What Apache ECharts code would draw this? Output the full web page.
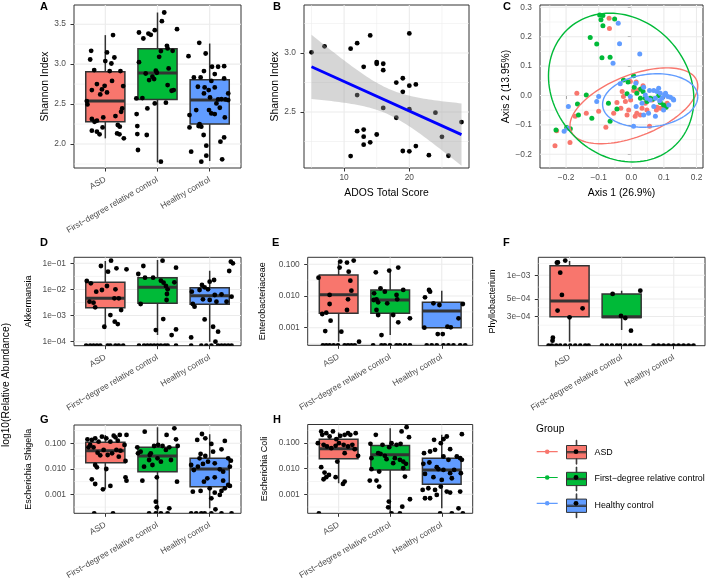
<!DOCTYPE html>
<html>
<head>
<meta charset="utf-8">
<script src="https://cdn.jsdelivr.net/npm/echarts@6/dist/echarts.min.js"></script>
<style>
  html, body { margin: 0; padding: 0; background: #fff; }
  #main { width: 708px; height: 584px; }
</style>
</head>
<body>
<div id="main"></div>
<script>
const FONT = '"Liberation Sans", Arial, Helvetica, sans-serif';

const groupNames = ['ASD', 'First−degree relative control', 'Healthy control'];
const groupColors = ['#F8766D', '#00BA38', '#619CFF'];
const boxTicks = [1, 2, 3];

// A - Shannon index per group. box stats: [lower whisker, Q1, median, Q3, upper whisker]
const shannonTicks = [2.0, 2.5, 3.0, 3.5];
const shannonMinor = [1.75, 2.25, 2.75, 3.25];
const shannonBox = [
  [2.071, 2.279, 2.537, 2.904, 3.363],
  [1.771, 2.558, 2.888, 3.192, 3.646],
  [1.787, 2.250, 2.550, 2.804, 3.258]
];
const shannonASD = [[1.148,3.363],[0.729,3.167],[1.032,3.146],[1.174,3.083],[0.71,3.058],[1.0,3.038],[1.116,3.008],[0.787,2.925],[1.084,2.913],[1.29,2.913],[1.129,2.79],[0.839,2.75],[0.987,2.729],[1.342,2.725],[0.742,2.675],[0.935,2.683],[1.032,2.646],[0.903,2.621],[0.645,2.538],[0.658,2.496],[1.323,2.446],[1.303,2.404],[0.742,2.313],[0.839,2.292],[0.961,2.333],[1.194,2.35],[1.239,2.238],[1.277,2.217],[0.948,2.208],[0.742,2.167],[0.839,2.154],[0.89,2.121],[1.226,2.133],[1.271,2.121],[1.355,2.071],[0.794,2.279]];
const shannonFDR = [[2.129,3.646],[2.084,3.538],[2.374,3.438],[1.948,3.425],[1.645,3.396],[1.826,3.383],[1.871,3.367],[1.729,3.321],[2.181,3.229],[2.194,3.196],[2.065,3.163],[2.29,3.167],[2.032,3.092],[1.645,3.025],[2.213,2.946],[1.968,2.917],[1.987,2.892],[1.774,2.883],[1.903,2.842],[1.935,2.813],[1.839,2.8],[2.194,2.738],[2.31,2.675],[2.271,2.667],[1.594,2.571],[1.71,2.575],[2.161,2.517],[1.948,2.508],[1.806,2.446],[1.6,2.375],[1.613,2.225],[1.613,2.125],[1.794,2.113],[1.626,1.925],[2.065,1.779]];
const shannonHC = [[2.8,3.267],[2.923,3.133],[2.594,3.1],[2.89,2.913],[3.045,2.967],[3.161,2.967],[3.277,2.975],[3.097,2.875],[2.697,2.833],[2.826,2.833],[3.277,2.821],[3.032,2.79],[2.774,2.717],[2.903,2.708],[2.981,2.675],[3.097,2.708],[2.89,2.633],[3.355,2.633],[3.006,2.583],[3.161,2.558],[3.226,2.563],[3.303,2.558],[3.355,2.55],[3.129,2.508],[2.742,2.425],[2.987,2.425],[3.032,2.383],[3.097,2.375],[3.194,2.454],[2.613,2.363],[3.29,2.333],[2.806,2.25],[2.839,2.217],[2.613,2.208],[2.787,2.225],[2.884,2.113],[3.277,2.083],[3.206,2.029],[2.935,1.979],[2.645,1.904],[2.935,1.854],[2.839,1.779],[3.239,1.808]];

// B - ADOS vs Shannon
const adosScore = [5,7,11,12,14,20,13,15,15,16,16,18,19,19,20,21,12,16,20,18,24,28,12,13,13,14,13,15,25,19,20,21,23,26,11];
const adosShannon = [3.006,3.057,3.037,3.083,3.149,3.166,2.883,2.923,2.909,2.909,2.854,2.749,2.786,2.671,2.723,2.734,2.643,2.534,2.523,2.451,2.494,2.414,2.337,2.351,2.291,2.243,2.223,2.309,2.289,2.169,2.166,2.211,2.134,2.129,2.126];
const adosTicks = [10, 20];
const adosMinor = [5, 15, 25];
const bShannonTicks = [2.5, 3.0];
const bShannonMinor = [2.25, 2.75, 3.25];
const tCrit = 2.035; // t(0.975, df = 33)

// C - PCoA
const pcoaTicksX = [-0.2, -0.1, 0, 0.1, 0.2];
const pcoaMinorX = [-0.25, -0.15, -0.05, 0.05, 0.15];
const pcoaTicksY = [-0.2, -0.1, 0, 0.1, 0.2, 0.3];
const pcoaMinorY = [-0.15, -0.05, 0.05, 0.15, 0.25];
const pcoaASD = [[-0.068,0.263],[-0.067,0.228],[-0.003,0.048],[0.015,0.046],[-0.028,0.014],[0.022,0.019],[-0.024,-0.003],[-0.002,-0.015],[-0.018,-0.02],[-0.032,-0.043],[-0.054,-0.06],[-0.1,-0.054],[-0.138,-0.06],[-0.167,0.008],[-0.172,-0.071],[-0.078,-0.108],[-0.013,-0.066],[0.012,-0.071],[0.028,-0.066],[0.033,-0.043],[0.056,-0.105],[0.079,-0.04],[0.089,-0.043],[0.101,-0.04],[0.11,-0.026],[0.043,-0.026],[0.048,-0.049],[0.064,-0.015],[0.077,-0.049],[-0.229,-0.12],[-0.234,-0.171],[-0.188,-0.16],[-0.044,-0.024],[0.036,0.033],[0.007,0.017],[-0.008,-0.049],[0.017,-0.06]];
const pcoaFDR = [[-0.097,0.274],[-0.087,0.272],[-0.093,0.258],[-0.051,0.26],[-0.087,0.237],[-0.126,0.197],[-0.106,0.175],[-0.09,0.128],[-0.065,0.13],[0.007,0.067],[-0.024,0.053],[-0.01,0.046],[0.029,0.022],[0.036,0.014],[0.043,-0.009],[0.05,-0.015],[0.058,-0.009],[0.099,-0.032],[0.107,-0.04],[0.067,-0.012],[-0.138,0.002],[-0.07,-0.026],[-0.165,-0.029],[-0.162,-0.066],[-0.121,-0.077],[-0.065,-0.088],[-0.044,-0.046],[-0.198,-0.109],[-0.187,-0.113],[-0.231,-0.117],[0.028,-0.009],[0.084,-0.001],[0.017,0.008],[0.009,0.028],[-0.013,0.006],[0.048,-0.02],[0.089,-0.024]];
const pcoaHC = [[-0.04,0.246],[-0.036,0.176],[0.026,0.141],[-0.056,0.11],[-0.034,0.04],[0.014,0.042],[0.038,0.028],[0.056,0.017],[0.069,0.017],[0.079,0.014],[0.089,0.008],[0.102,0.002],[0.112,-0.003],[0.12,-0.006],[0.128,-0.012],[0.074,-0.009],[0.058,-0.015],[0.087,-0.018],[0.115,-0.032],[0.099,-0.049],[0.069,-0.037],[0.053,-0.06],[0.074,-0.071],[0.038,-0.066],[0.015,-0.037],[-0.003,-0.003],[0.033,-0.026],[-0.1,-0.003],[-0.106,-0.02],[-0.193,-0.037],[-0.206,-0.122],[-0.195,-0.111],[0.007,-0.105],[0.043,0.002],[0.084,0.025],[0.105,0.008],[0.094,-0.009],[0.13,-0.015],[0.048,-0.009]];
// ellipse: [centre x, centre y, half width, half height, phase of the top point (deg)]
const pcoaEllipse = [
  [0.008, -0.035, 0.196, 0.129, 58.7],
  [-0.031, 0.027, 0.223, 0.253, 99],
  [0.058, -0.017, 0.146, 0.091, 81.7]
];

// D-H: log10 relative abundance, null = zero abundance (drawn on the floor)
const akkTicks = [-1, -2, -3, -4];
const akkLabels = ['1e−01', '1e−02', '1e−03', '1e−04'];
const akkMinor = [-1.5, -2.5, -3.5];
const akkBox = [
  [-3.516, -2.699, -2.341, -1.728, -0.91],
  [-3.746, -2.533, -1.92, -1.549, -0.872],
  [-4.0, -2.571, -2.239, -1.932, -1.281]
];
const akkASD = [[1.11,-0.898],[0.916,-1.102],[1.052,-1.319],[1.213,-1.192],[1.406,-1.23],[0.645,-1.677],[0.723,-1.766],[1.032,-1.868],[0.826,-2.086],[0.935,-2.022],[1.194,-1.996],[1.174,-2.341],[1.258,-2.341],[0.697,-2.469],[0.774,-2.507],[0.806,-2.686],[1.303,-2.788],[1.097,-2.98],[1.181,-3.235],[1.239,-3.324],[0.981,-3.427],[0.632,null],[0.71,null],[0.774,null],[0.839,null],[0.903,null],[1.045,null],[1.097,null],[1.194,null],[1.258,null],[1.342,null]];
const akkFDR = [[2.097,-0.898],[1.729,-1.102],[1.632,-1.409],[2.355,-1.166],[1.761,-1.549],[1.916,-1.549],[2.065,-1.664],[2.116,-1.741],[2.161,-1.868],[2.323,-1.728],[2.194,-1.996],[2.181,-2.175],[2.174,-2.405],[1.677,-2.558],[2.11,-3.133],[1.968,-3.554],[2.355,-3.529],[2.271,-3.746],[1.645,null],[1.742,null],[1.806,null],[1.871,null],[1.935,null],[2.0,null],[2.065,null],[2.142,null],[2.194,null],[2.355,null]];
const akkHC = [[3.406,-0.936],[3.445,-1.0],[3.374,-1.294],[3.0,-1.702],[3.084,-1.639],[2.852,-1.83],[2.903,-1.92],[2.806,-2.022],[2.968,-1.996],[2.658,-2.086],[3.097,-2.213],[3.226,-2.188],[3.419,-2.277],[3.0,-2.405],[2.677,-2.558],[2.71,-2.66],[2.871,-2.379],[3.129,-2.469],[3.323,-2.469],[2.903,-3.146],[3.065,-3.427],[3.161,-3.618],[2.645,-3.835],[3.11,-4.0],[2.645,null],[2.839,null],[2.935,null],[3.032,null],[3.161,null],[3.226,null],[3.29,null],[3.355,null],[3.419,null]];

const entTicks = [-1, -2, -3];
const entLabels = ['0.100', '0.010', '0.001'];
const entMinor = [-1.5, -2.5, -3.5];
const entBox = [
  [-3.442, -2.547, -1.958, -1.337, -0.895],
  [-3.232, -2.547, -2.126, -1.81, -1.179],
  [-3.0, -3.0, -2.474, -2.2, -1.832]
];
const entASD = [[1.032,-0.916],[1.162,-0.947],[1.292,-0.884],[1.019,-1.105],[1.195,-1.232],[0.61,-1.421],[1.227,-1.516],[1.247,-1.832],[0.825,-1.968],[0.682,-2.568],[0.76,-2.526],[0.825,-2.253],[0.844,-2.779],[0.74,-3.105],[1.052,-3.126],[1.396,-3.442],[1.162,-2.442],[1.182,-2.105],[0.695,null],[0.76,null],[0.825,null],[0.903,null],[0.987,null],[1.117,null],[1.182,null],[1.247,null],[1.312,null]];
const entFDR = [[1.721,-1.253],[1.981,-1.2],[2.156,-1.105],[1.812,-1.758],[1.896,-1.863],[1.734,-2.105],[1.766,-2.2],[1.682,-2.126],[1.942,-2.232],[2.123,-1.968],[2.136,-2.105],[1.734,-2.442],[1.766,-2.6],[2.058,-2.6],[2.156,-2.832],[2.383,-2.705],[1.831,-3.232],[1.688,-1.916],[2.253,-1.81],[1.669,null],[1.831,null],[1.896,null],[1.994,null],[2.123,null],[2.188,null],[2.286,null],[2.383,null]];
const entHC = [[2.753,-1.81],[2.773,-1.863],[2.675,-2.042],[2.838,-2.232],[2.955,-2.284],[3.409,-2.253],[3.325,-2.705],[2.662,-3.0],[2.922,-3.2],[3.019,-3.2],[3.11,-2.968],[3.175,-2.989],[2.708,null],[2.805,null],[2.903,null],[3.032,null],[3.13,null],[3.227,null],[3.357,null],[3.455,null]];

const phyTicks = [Math.log10(1e-3), Math.log10(5e-4), Math.log10(3e-4)];
const phyLabels = ['1e−03', '5e−04', '3e−04'];
const phyMinor = [-2.85, -3.15, -3.412, -3.634];
const phyBox = [
  [-3.844, -3.526, -3.326, -2.877, -2.818],
  [-3.695, -3.538, -3.526, -3.237, -3.195],
  [null, null, null, null, null]
];
const phyASD = [[0.757,-2.839],[0.776,-2.836],[0.917,-2.813],[0.821,-2.966],[0.853,-3.25],[0.77,-3.449],[1.25,-3.42],[1.0,-3.534],[0.68,-3.793],[0.673,-3.831],[0.597,null],[0.661,null],[0.744,null],[0.821,null],[0.917,null],[1.013,null],[1.109,null],[1.205,null],[1.301,null],[1.365,null]];
const phyFDR = [[1.827,-3.237],[2.358,-3.195],[1.987,-3.517],[2.07,-3.543],[2.179,-3.704],[1.621,null],[1.717,null],[1.813,null],[1.909,null],[1.972,null],[2.068,null],[2.164,null],[2.26,null],[2.356,null]];
const phyHC = [[2.612,null],[2.708,null],[2.804,null],[2.9,null],[2.996,null],[3.092,null],[3.188,null],[3.284,null],[3.38,null]];

const shiTicks = [-1, -2, -3];
const shiLabels = ['0.100', '0.010', '0.001'];
const shiMinor = [-0.5, -1.5, -2.5, -3.5];
const shiBox = [
  [-2.79, -1.758, -1.288, -0.961, -0.673],
  [null, -2.111, -1.497, -1.157, -0.373],
  [-3.549, -2.699, -2.007, -1.588, -0.647]
];
const shiASD = [[0.658,-0.843],[0.677,-1.157],[0.742,-0.869],[0.806,-0.804],[0.871,-0.935],[0.935,-0.739],[1.019,-0.804],[1.097,-0.935],[1.161,-0.699],[1.194,-0.765],[1.239,-0.895],[1.277,-0.673],[1.406,-0.673],[0.71,-1.065],[0.774,-1.157],[0.852,-1.366],[0.903,-1.471],[0.968,-1.261],[1.045,-1.458],[1.129,-1.392],[1.213,-1.261],[1.29,-1.288],[1.368,-1.065],[1.387,-1.693],[1.258,-1.523],[0.806,-1.85],[0.839,-1.941],[1.019,-2.007],[0.742,-2.412],[0.806,-2.595],[0.955,-2.804],[1.097,-2.673],[1.387,-2.333],[1.406,-2.464],[0.787,null],[1.148,null]];
const shiFDR = [[1.755,-0.542],[2.323,-0.412],[2.174,-0.673],[2.355,-0.843],[2.387,-1.105],[1.613,-1.157],[1.626,-1.392],[1.677,-1.327],[1.852,-1.458],[1.935,-1.105],[2.013,-1.065],[2.097,-1.105],[2.161,-1.261],[2.226,-1.157],[1.871,-1.392],[2.0,-1.588],[1.839,-1.654],[1.742,-1.915],[1.903,-1.85],[2.065,-1.719],[2.258,-1.654],[1.987,-2.333],[1.71,-2.464],[2.374,-2.503],[1.968,-3.288],[2.226,-3.549],[1.987,-3.51],[1.839,null],[1.968,null],[2.065,null],[2.194,null]];
const shiHC = [[2.852,-0.634],[2.916,-0.804],[3.032,-1.026],[3.29,-0.908],[2.761,-0.869],[2.826,-1.418],[2.806,-1.588],[2.916,-1.497],[3.065,-1.327],[3.226,-1.235],[3.355,-1.588],[3.406,-1.68],[2.645,-1.85],[2.697,-2.046],[2.774,-1.915],[2.871,-1.81],[2.968,-1.719],[3.097,-1.784],[3.194,-2.02],[3.258,-2.111],[3.387,-1.915],[2.955,-2.373],[3.097,-2.333],[3.258,-2.464],[3.355,-2.634],[2.677,-2.895],[2.826,-2.869],[2.89,-2.503],[3.0,-2.765],[3.097,-2.935],[3.226,-2.869],[3.29,-2.765],[3.387,-2.673],[3.032,-3.157],[3.194,-3.026],[3.11,-3.588],[2.645,null],[2.742,null],[2.839,null],[2.903,null],[3.032,null],[3.226,null],[3.419,null]];

const coliBox = [
  [-2.569, -1.614, -1.222, -0.843, -0.582],
  [null, -2.046, -1.458, -1.092, -0.412],
  [-3.549, -2.608, -2.046, -1.588, -0.673]
];
const coliASD = [[0.662,-0.542],[0.682,-0.673],[0.76,-0.608],[0.89,-0.542],[0.825,-0.739],[0.955,-0.843],[1.032,-0.712],[1.117,-0.673],[1.182,-0.608],[1.227,-0.673],[1.331,-0.608],[0.597,-1.0],[0.708,-1.065],[0.773,-1.131],[0.857,-1.196],[0.942,-1.105],[1.006,-1.0],[1.097,-1.065],[1.182,-1.131],[1.266,-1.065],[1.312,-1.235],[1.377,-1.497],[1.117,-1.392],[0.974,-1.719],[0.662,-1.941],[0.727,-2.15],[0.76,-2.333],[0.708,-2.412],[0.812,-2.242],[0.942,-2.333],[1.084,-2.595],[1.117,-2.503],[0.617,null]];
const coliFDR = [[1.721,-0.673],[2.221,-0.542],[2.318,-0.373],[2.364,-0.765],[1.617,-1.026],[1.851,-1.065],[2.026,-1.0],[2.123,-1.065],[2.201,-1.026],[1.981,-1.157],[1.766,-1.392],[1.812,-1.418],[1.896,-1.497],[1.636,-1.588],[1.929,-1.627],[2.091,-1.588],[2.188,-1.654],[2.253,-1.719],[2.305,-1.81],[2.058,-1.784],[1.636,-2.02],[1.786,-2.111],[2.253,-1.98],[2.286,-2.307],[1.604,-2.464],[1.734,-2.464],[1.786,-2.699],[1.974,-3.288],[1.961,-3.51],[2.234,-3.484],[2.383,-3.196],[2.026,null],[2.188,null]];
const coliHC = [[2.851,-0.869],[2.981,-1.0],[3.032,-0.843],[3.097,-0.739],[3.39,-0.647],[2.656,-1.392],[2.773,-1.327],[2.87,-1.261],[3.162,-1.235],[3.032,-1.523],[3.13,-1.654],[3.292,-1.523],[3.357,-1.588],[3.39,-1.654],[2.643,-1.81],[2.76,-1.758],[2.903,-1.941],[3.032,-2.046],[3.162,-2.176],[3.24,-2.046],[2.935,-2.02],[2.675,-2.203],[2.838,-2.333],[3.0,-2.438],[3.195,-2.373],[3.37,-2.176],[2.63,-2.83],[2.74,-2.765],[2.87,-2.83],[2.981,-2.699],[3.097,-2.895],[3.162,-2.935],[3.357,-2.895],[2.675,-3.157],[2.903,-3.026],[2.773,-3.157],[3.325,-3.549],[2.968,null],[3.195,null],[3.409,null]];

// ---------------------------------------------------------------------------
const grids = [], xAxes = [], yAxes = [], series = [];

function labelOf(a, v) {
  const i = a.ticks.findIndex(t => Math.abs(t - v) < 1e-6);
  return i < 0 ? '' : a.labels[i];
}

function makeAxis(gi, a) {
  return {
    type: 'value', gridIndex: gi, min: a.min, max: a.max,
    name: a.name || '', nameLocation: 'middle', nameGap: a.nameGap || 0,
    nameTextStyle: {fontSize: a.nameSize || 10.4, color: '#000', fontFamily: FONT},
    axisLine: {show: false},
    splitLine: {show: false},
    splitArea: {show: false},
    minorTick: {show: false},
    minorSplitLine: {show: false},
    axisTick: {show: true, customValues: a.ticks, length: 3.5, lineStyle: {color: '#333333', width: 1}},
    axisLabel: {
      show: true, customValues: a.ticks, rotate: a.rotate || 0, margin: a.margin,
      fontSize: 8.4, color: '#4D4D4D', fontFamily: FONT,
      formatter: v => labelOf(a, v)
    }
  };
}

function renderGridLine(params, api) {
  const cs = params.coordSys;
  const p = api.coord([api.value(0), api.value(1)]);
  const style = {stroke: '#EBEBEB', lineWidth: api.value(3) ? 1.1 : 0.55};
  if (api.value(2) === 0) {
    return {type: 'line', shape: {x1: p[0], y1: cs.y, x2: p[0], y2: cs.y + cs.height}, style};
  }
  return {type: 'line', shape: {x1: cs.x, y1: p[1], x2: cs.x + cs.width, y2: p[1]}, style};
}

function panel(box, x, y) {
  const gi = grids.length;
  grids.push({
    left: box[0], top: box[1], width: box[2], height: box[3],
    show: true, borderColor: '#333333', borderWidth: 1, backgroundColor: 'transparent',
    containLabel: false, outerBoundsMode: 'none'
  });
  xAxes.push(makeAxis(gi, x));
  yAxes.push(makeAxis(gi, y));
  const lines = [];
  x.ticks.forEach(v => lines.push([v, y.min, 0, 1]));
  (x.minor || []).forEach(v => lines.push([v, y.min, 0, 0]));
  y.ticks.forEach(v => lines.push([x.min, v, 1, 1]));
  (y.minor || []).forEach(v => lines.push([x.min, v, 1, 0]));
  series.push({
    type: 'custom', xAxisIndex: gi, yAxisIndex: gi, z: 1, silent: true, clip: true,
    renderItem: renderGridLine, data: lines
  });
  return gi;
}

function renderBox(params, api) {
  const x = api.value(0), hw = 0.375;
  const lo = api.coord([x, api.value(1)]);
  const q1 = api.coord([x + hw, api.value(2)]);
  const md1 = api.coord([x - hw, api.value(3)]);
  const md2 = api.coord([x + hw, api.value(3)]);
  const q3 = api.coord([x - hw, api.value(4)]);
  const hi = api.coord([x, api.value(5)]);
  const ink = {stroke: '#333333', lineWidth: 1.5};
  return {type: 'group', children: [
    {type: 'line', shape: {x1: hi[0], y1: hi[1], x2: hi[0], y2: q3[1]}, style: ink},
    {type: 'line', shape: {x1: lo[0], y1: q1[1], x2: lo[0], y2: lo[1]}, style: ink},
    {type: 'rect', shape: {x: q3[0], y: q3[1], width: q1[0] - q3[0], height: q1[1] - q3[1]},
      style: {fill: groupColors[api.value(6)], stroke: '#333333', lineWidth: 1.5}},
    {type: 'line', shape: {x1: md1[0], y1: md1[1], x2: md2[0], y2: md2[1]}, style: {stroke: '#333333', lineWidth: 3}}
  ]};
}

// zero abundances sit on the lower panel edge; only their upper half shows
const halfDot = 'path://M0,2A2,2,0,0,1,4,2Z';

function boxPlot(gi, stats, groups, floor) {
  const fix = v => (v === null ? floor : v);
  const pts = [].concat(...groups);
  series.push({
    type: 'custom', xAxisIndex: gi, yAxisIndex: gi, z: 2, silent: true, clip: true,
    renderItem: renderBox, encode: {x: 0, y: [1, 2, 3, 4, 5]},
    data: stats.map((s, i) => [i + 1].concat(s.map(fix)).concat([i]))
  });
  series.push({
    type: 'scatter', xAxisIndex: gi, yAxisIndex: gi, z: 3, silent: true, clip: true,
    symbolSize: 4.8, itemStyle: {color: '#000', opacity: 1},
    data: pts.filter(p => p[1] !== null)
  });
  const zeros = pts.filter(p => p[1] === null).map(p => [p[0], floor]);
  if (zeros.length) {
    series.push({
      type: 'scatter', xAxisIndex: gi, yAxisIndex: gi, z: 3, silent: true, clip: false,
      symbol: halfDot, symbolSize: [4.8, 2.4], symbolOffset: [0, -1.2],
      itemStyle: {color: '#000', opacity: 1}, data: zeros
    });
  }
}

const boxX = (margin) => ({min: 0.4, max: 3.6, ticks: boxTicks, labels: groupNames, rotate: 30, margin: margin});

// A
const gA = panel([74, 5, 167, 163], boxX(11),
  {min: 1.70, max: 3.74, ticks: shannonTicks, labels: shannonTicks.map(v => v.toFixed(1)), minor: shannonMinor,
   name: 'Shannon Index', nameGap: 22, margin: 8});
boxPlot(gA, shannonBox, [shannonASD, shannonFDR, shannonHC], null);

// B
const gB = panel([304, 5, 165, 163],
  {min: 3.85, max: 29.15, ticks: adosTicks, labels: adosTicks.map(String), minor: adosMinor,
   name: 'ADOS Total Score', nameGap: 20, margin: 6},
  {min: 2.025, max: 3.407, ticks: bShannonTicks, labels: bShannonTicks.map(v => v.toFixed(1)), minor: bShannonMinor,
   name: 'Shannon Index', nameGap: 22, margin: 8});
series.push({
  type: 'scatter', xAxisIndex: gB, yAxisIndex: gB, z: 3, silent: true, clip: true,
  symbolSize: 4.8, itemStyle: {color: '#000', opacity: 1},
  data: adosScore.map((s, i) => [s, adosShannon[i]])
});
// linear fit with 95% confidence band
const n = adosScore.length;
const mx = adosScore.reduce((a, b) => a + b, 0) / n;
const my = adosShannon.reduce((a, b) => a + b, 0) / n;
let sxx = 0, sxy = 0;
adosScore.forEach((s, i) => { sxx += (s - mx) * (s - mx); sxy += (s - mx) * (adosShannon[i] - my); });
const slope = sxy / sxx, icpt = my - slope * mx;
let sse = 0;
adosScore.forEach((s, i) => { const r = adosShannon[i] - (icpt + slope * s); sse += r * r; });
const sRes = Math.sqrt(sse / (n - 2));
const xLo = Math.min(...adosScore), xHi = Math.max(...adosScore);
const band = [];
for (let k = 0; k <= 60; k++) {
  const xv = xLo + (xHi - xLo) * k / 60;
  const fit = icpt + slope * xv;
  const se = sRes * Math.sqrt(1 / n + (xv - mx) * (xv - mx) / sxx);
  band.push([xv, fit - tCrit * se, fit + tCrit * se]);
}
series.push({
  type: 'custom', xAxisIndex: gB, yAxisIndex: gB, z: 4, silent: true, clip: true,
  data: [[xLo, icpt + slope * xLo]],
  renderItem: (params, api) => {
    const pts = band.map(b => api.coord([b[0], b[2]]))
      .concat(band.slice().reverse().map(b => api.coord([b[0], b[1]])));
    return {type: 'polygon', shape: {points: pts}, style: {fill: 'rgba(153,153,153,0.4)'}};
  }
});
series.push({
  type: 'line', xAxisIndex: gB, yAxisIndex: gB, z: 5, silent: true, showSymbol: false, symbol: 'none',
  lineStyle: {color: '#0000FF', width: 2.8},
  data: [[xLo, icpt + slope * xLo], [xHi, icpt + slope * xHi]]
});

// C
const fmtSigned = v => v.toFixed(1).replace('-', '−');
const gC = panel([540, 5, 163, 163],
  {min: -0.28, max: 0.22, ticks: pcoaTicksX, labels: pcoaTicksX.map(fmtSigned), minor: pcoaMinorX,
   name: 'Axis 1 (26.9%)', nameGap: 20, margin: 6},
  {min: -0.2466, max: 0.3078, ticks: pcoaTicksY, labels: pcoaTicksY.map(fmtSigned), minor: pcoaMinorY,
   name: 'Axis 2 (13.95%)', nameGap: 27, margin: 8});
[pcoaASD, pcoaFDR, pcoaHC].forEach((pts, i) => {
  series.push({
    type: 'scatter', name: groupNames[i], xAxisIndex: gC, yAxisIndex: gC, z: 3, silent: true, clip: true,
    symbolSize: 5, itemStyle: {color: groupColors[i], opacity: 1}, data: pts
  });
});
series.push({
  type: 'custom', xAxisIndex: gC, yAxisIndex: gC, z: 4, silent: true, clip: true,
  data: pcoaEllipse.map((e, i) => e.concat([i])),
  renderItem: (params, api) => {
    const cx = api.value(0), cy = api.value(1), rx = api.value(2), ry = api.value(3);
    const d = api.value(4) * Math.PI / 180;
    const pts = [];
    for (let k = 0; k <= 120; k++) {
      const t = k / 120 * 2 * Math.PI;
      pts.push(api.coord([cx + rx * Math.cos(t), cy + ry * Math.cos(t - d)]));
    }
    return {type: 'polyline', shape: {points: pts}, style: {stroke: groupColors[api.value(5)], lineWidth: 1.4, fill: null}};
  }
});

// D-H
const logY = (min, max, ticks, labels, minor, name, gap) =>
  ({min, max, ticks, labels, minor, name, nameGap: gap, nameSize: 9, margin: 8});

const gD = panel([74, 257.3, 167, 88.4], boxX(11), logY(-4.153, -0.77, akkTicks, akkLabels, akkMinor, 'Akkermansia', 41));
boxPlot(gD, akkBox, [akkASD, akkFDR, akkHC], -4.153);

const gE = panel([307.7, 257.3, 165, 88], boxX(11), logY(-3.555, -0.78, entTicks, entLabels, entMinor, 'Enterobacteriaceae', 41));
boxPlot(gE, entBox, [entASD, entFDR, entHC], -3.555);

const gF = panel([538.3, 257.3, 166.7, 88.4], boxX(11), logY(-3.895, -2.771, phyTicks, phyLabels, phyMinor, 'Phyllobacterium', 41));
boxPlot(gF, phyBox, [phyASD, phyFDR, phyHC], -3.895);

const gG = panel([74, 425, 167, 88.3], boxX(11), logY(-3.745, -0.282, shiTicks, shiLabels, shiMinor, 'Escherichia Shigella', 41));
boxPlot(gG, shiBox, [shiASD, shiFDR, shiHC], -3.745);

const gH = panel([307.7, 424.5, 165, 88.8], boxX(11), logY(-3.745, -0.27, shiTicks, shiLabels, shiMinor, 'Escherichia Coli', 39));
boxPlot(gH, coliBox, [coliASD, coliFDR, coliHC], -3.745);

// legend keys
const keyBoxIcon = 'path://M0,5.3L20,5.3L20,18.6L0,18.6Z M9.7,0L10.3,0L10.3,5.3L9.7,5.3Z M9.7,18.6L10.3,18.6L10.3,24L9.7,24Z M0,11.4L20,11.4L20,12.6L0,12.6Z';
const keyLineIcon = 'path://M0,0L0.01,0L0.01,0.01Z M0,11.4L21,11.4L21,12.6L0,12.6Z M8.2,12A2.3,2.3,0,1,1,12.8,12A2.3,2.3,0,1,1,8.2,12Z M20.99,23.99L21,23.99L21,24Z';

const tags = [['A', 40, 1], ['B', 273, 1], ['C', 503, 1], ['D', 40, 237.5], ['E', 272, 237.5], ['F', 503, 237.5], ['G', 40, 414.5], ['H', 273, 414.5]];

const option = {
  animation: false,
  backgroundColor: '#ffffff',
  textStyle: {fontFamily: FONT},
  title: tags.map(t => ({
    text: t[0], left: t[1], top: t[2], padding: 0,
    textStyle: {fontSize: 11, fontWeight: 'bold', color: '#000', fontFamily: FONT}
  })).concat([{
    text: 'Group', left: 536, top: 424, padding: 0,
    textStyle: {fontSize: 10.2, fontWeight: 'normal', color: '#000', fontFamily: FONT}
  }]),
  legend: [
    {
      left: 566, top: 439.7, orient: 'vertical', padding: 0, itemGap: 1.8,
      itemWidth: 20, itemHeight: 24, selectedMode: false, icon: keyBoxIcon,
      textStyle: {fontSize: 8.9, color: '#000', fontFamily: FONT, padding: [0, 0, 0, 3]},
      data: groupNames.map((nm, i) => ({name: nm, itemStyle: {color: groupColors[i], borderColor: '#333333', borderWidth: 1}}))
    },
    {
      left: 536.7, top: 439.7, orient: 'vertical', padding: 0, itemGap: 1.8,
      itemWidth: 21, itemHeight: 24, selectedMode: false, icon: keyLineIcon,
      formatter: () => '', textStyle: {fontSize: 1, lineHeight: 1},
      data: groupNames.map((nm, i) => ({name: nm, itemStyle: {color: groupColors[i], borderWidth: 0}}))
    },
    {
      left: 573.6, top: 449.3, orient: 'vertical', padding: 0, itemGap: 21,
      itemWidth: 4.8, itemHeight: 4.8, selectedMode: false, icon: 'circle',
      formatter: () => '', textStyle: {fontSize: 1, lineHeight: 1},
      data: groupNames.map(nm => ({name: nm, itemStyle: {color: '#000', borderWidth: 0}}))
    }
  ],
  graphic: [{
    type: 'text', x: 6.5, y: 385, rotation: Math.PI / 2, silent: true,
    style: {text: 'log10(Relative Abundance)', fontSize: 10.3, fontFamily: FONT, fill: '#000', align: 'center', verticalAlign: 'middle'}
  }],
  grid: grids,
  xAxis: xAxes,
  yAxis: yAxes,
  series: series
};

const chart = echarts.init(document.getElementById('main'), null, {renderer: 'canvas'});
chart.setOption(option);
</script>
</body>
</html>
